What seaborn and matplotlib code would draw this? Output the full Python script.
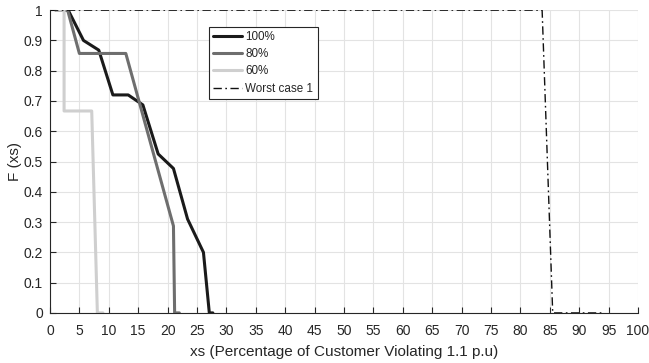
import matplotlib
matplotlib.use("Agg")
import matplotlib.pyplot as plt
import seaborn as sns
import pandas as pd
import numpy as np

# Data
x100 = [1, 3.1, 5.7, 8.3, 10.7, 13.3, 15.8, 18.4, 21.0, 23.4, 26.1, 27.1, 27.7]
y100 = [1, 1, 0.90, 0.868, 0.72, 0.72, 0.687, 0.525, 0.477, 0.31, 0.2, 0, 0]
x80 = [1, 3.0, 5.0, 12.9, 21.0, 21.2, 22.0]
y80 = [1, 1, 0.857, 0.857, 0.287, 0, 0]
x60 = [1, 2.4, 2.4, 7.1, 8.06, 9.0]
y60 = [1, 1, 0.667, 0.667, 0, 0]
xwc = [0, 83.7, 85.5, 94]
ywc = [1, 1, 0, 0]

labels = ["100%", "80%", "60%", "Worst case 1"]
xticks = list(range(0, 101, 5))
yticks = [round(v * 0.1, 1) for v in range(11)]
ytick_labels = ["0"] + [f"{v:.1f}" for v in yticks[1:-1]] + ["1"]

sns.set_theme(style="white")
plt.rcParams['font.family'] = ['Liberation Sans', 'DejaVu Sans']

fig = plt.figure(figsize=(6.49, 3.63), dpi=100)
ax = fig.add_axes([0.077, 0.138, 0.906, 0.834])

def frame(x, y, name):
    return pd.DataFrame({"x": x, "y": y, "series": name})

sns.lineplot(data=frame(x100, y100, labels[0]), x="x", y="y", sort=False,
             color="#1a1a1a", lw=2.2, ax=ax, label=labels[0], estimator=None)
sns.lineplot(data=frame(x80, y80, labels[1]), x="x", y="y", sort=False,
             color="#6e6e6e", lw=2.2, ax=ax, label=labels[1], estimator=None)
sns.lineplot(data=frame(x60, y60, labels[2]), x="x", y="y", sort=False,
             color="#cfcfcf", lw=2.2, ax=ax, label=labels[2], estimator=None)
sns.lineplot(data=frame(xwc, ywc, labels[3]), x="x", y="y", sort=False,
             color="#111111", lw=1.0, ax=ax, label=labels[3], estimator=None)
ax.lines[-1].set_linestyle((0, (6, 2.5, 1.2, 2.5)))

ax.set_xlim(0, 100)
ax.set_ylim(0, 1)
ax.set_xticks(xticks)
ax.set_xticklabels([str(v) for v in xticks])
ax.set_yticks(yticks)
ax.set_yticklabels(ytick_labels)
ax.grid(True, color="#e3e3e3", lw=0.8)
ax.set_axisbelow(True)
for s in ["top", "right"]:
    ax.spines[s].set_visible(False)
for s in ["left", "bottom"]:
    ax.spines[s].set_color("#262626")
    ax.spines[s].set_linewidth(0.8)
ax.tick_params(axis="both", direction="in", length=4, width=0.8, colors="#262626",
               labelsize=10, labelcolor="#262626")
ax.tick_params(axis="x", bottom=True, pad=8)
ax.tick_params(axis="y", left=True, pad=5)
ax.set_xlabel("xs (Percentage of Customer Violating 1.1 p.u)", fontsize=11, color="#262626", labelpad=5)
ax.set_ylabel("F (xs)", fontsize=11, color="#262626", labelpad=1)

leg = ax.legend(loc="upper left", bbox_to_anchor=(0.27, 0.945), frameon=True, fancybox=False,
                fontsize=8.4, handlelength=2.5, handletextpad=0.3, labelspacing=0.45,
                borderpad=0.35, borderaxespad=0)
leg.get_frame().set_edgecolor("#262626")
leg.get_frame().set_linewidth(0.8)
leg.get_frame().set_alpha(1)

fig.savefig("out.png", dpi=100)
